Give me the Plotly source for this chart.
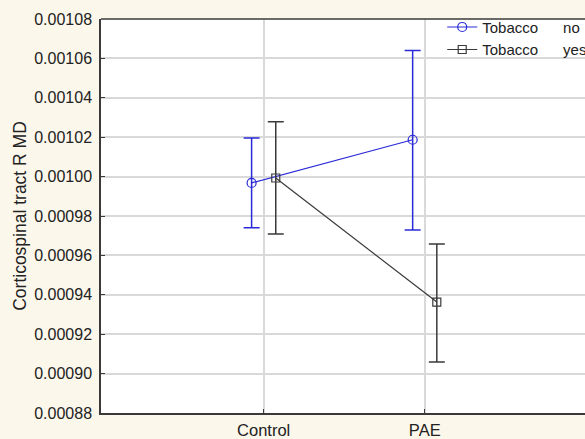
import plotly.graph_objects as go

categories = ["Control", "PAE"]
series_names = ["Tobacco\u00a0\u00a0\u00a0\u00a0\u00a0\u00a0no", "Tobacco\u00a0\u00a0\u00a0\u00a0\u00a0\u00a0yes"]

no_mean = [0.0009968, 0.0010187]
no_upper = [0.0010196, 0.0010640]
no_lower = [0.0009740, 0.0009729]

yes_mean = [0.0009993, 0.0009363]
yes_upper = [0.0010279, 0.0009658]
yes_lower = [0.0009709, 0.0009059]

y_ticks = [0.00088 + i * 0.00002 for i in range(11)]

BLUE = "#2a2ad8"
DARK = "#3a3a3a"
FONT = "Liberation Sans, Arial, sans-serif"

def plus(u, m):
    return [a - b for a, b in zip(u, m)]

def minus(m, l):
    return [a - b for a, b in zip(m, l)]

fig = go.Figure()
fig.add_trace(go.Scatter(
    x=categories, y=no_mean, name=series_names[0], mode="lines+markers",
    offsetgroup="no",
    line=dict(color=BLUE, width=1.2),
    marker=dict(symbol="circle-open", size=9, color=BLUE, line=dict(width=1.2)),
    error_y=dict(type="data", symmetric=False, array=plus(no_upper, no_mean),
                 arrayminus=minus(no_mean, no_lower), color=BLUE, thickness=1.5, width=8),
))
fig.add_trace(go.Scatter(
    x=categories, y=yes_mean, name=series_names[1], mode="lines+markers",
    offsetgroup="yes",
    line=dict(color=DARK, width=1.2),
    marker=dict(symbol="square-open", size=8, color=DARK, line=dict(width=1.2)),
    error_y=dict(type="data", symmetric=False, array=plus(yes_upper, yes_mean),
                 arrayminus=minus(yes_mean, yes_lower), color=DARK, thickness=1.5, width=8),
))

fig.update_layout(
    width=585, height=439,
    margin=dict(l=101, r=0, t=19, b=26, autoexpand=False),
    paper_bgcolor="#fcf7eb",
    plot_bgcolor="#ffffff",
    font=dict(family=FONT, size=15, color="#222222"),
    scattermode="group",
    scattergap=0.70,
    showlegend=True,
    legend=dict(x=0.705, y=1.021, xanchor="left", yanchor="top",
                bgcolor="rgba(0,0,0,0)", borderwidth=0, font=dict(size=15, color="#222222"),
                tracegroupgap=0, itemwidth=30),
)
fig.update_xaxes(
    type="category", range=[-1.01, 1.995],
    showgrid=True, gridcolor="#d9d9d9", gridwidth=1.5,
    showline=True, linecolor=DARK, linewidth=1.5, mirror=False,
    ticks="inside", ticklen=4, tickcolor=DARK,
    tickfont=dict(size=16.5), zeroline=False, ticklabelstandoff=1,
)
fig.update_yaxes(
    range=[0.00088, 0.00108], tickvals=y_ticks, tickformat=".5f",
    showgrid=True, gridcolor="#d9d9d9", gridwidth=1.5,
    showline=True, linecolor=DARK, linewidth=1.5, mirror=False,
    ticks="inside", ticklen=4, tickcolor=DARK,
    tickfont=dict(size=16), zeroline=False, ticklabelstandoff=4,
    title=dict(text="Corticospinal tract R MD", font=dict(size=17.5), standoff=3),
)
# top border of the plot frame
fig.add_shape(type="line", xref="paper", yref="paper", x0=0, x1=1, y0=1, y1=1,
              line=dict(color=DARK, width=1.5), layer="above")

fig.write_html("out.html", config={"displayModeBar": False},
               post_script="document.body.style.margin='0';document.body.style.overflow='hidden';")
